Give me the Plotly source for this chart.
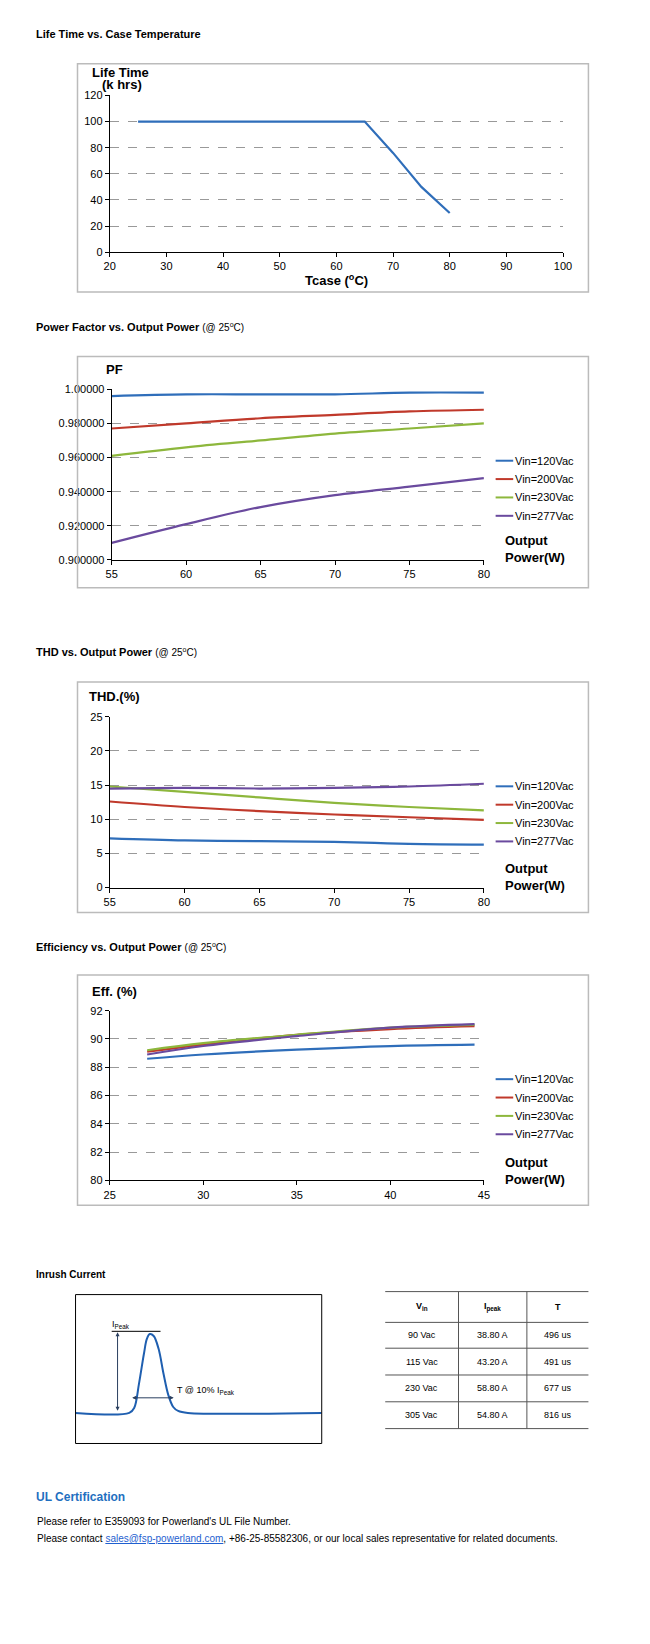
import plotly.graph_objects as go

W, H = 650, 1644

life_x = [25, 65, 70, 75, 80]
life_y = [100, 100, 76, 50, 30]

pf_x = [55, 60, 65, 70, 75, 80]
pf_120 = [0.996, 0.997, 0.997, 0.997, 0.998, 0.998]
pf_200 = [0.977, 0.980, 0.983, 0.985, 0.987, 0.988]
pf_230 = [0.961, 0.966, 0.970, 0.974, 0.977, 0.980]
pf_277 = [0.910, 0.921, 0.931, 0.938, 0.943, 0.948]

thd_x = [55, 60, 65, 70, 75, 80]
thd_120 = [7.2, 6.9, 6.8, 6.7, 6.4, 6.3]
thd_200 = [12.6, 11.8, 11.2, 10.7, 10.3, 9.9]
thd_230 = [14.8, 14.0, 13.2, 12.4, 11.8, 11.3]
thd_277 = [14.5, 14.6, 14.5, 14.6, 14.8, 15.2]

eff_x = [27, 30, 35, 40, 44.5]
eff_120 = [88.6, 88.9, 89.25, 89.5, 89.6]
eff_200 = [89.1, 89.6, 90.3, 90.7, 90.9]
eff_230 = [89.2, 89.7, 90.3, 90.8, 91.0]
eff_277 = [88.9, 89.5, 90.2, 90.8, 91.05]

names = ["Vin=120Vac", "Vin=200Vac", "Vin=230Vac", "Vin=277Vac"]
colors = ["#2f6eba", "#c0392b", "#8db73c", "#6a4a9e"]

inrush_t = [0, 55, 60, 65, 70, 73, 76, 80, 85, 90, 95, 100, 105, 115, 252]
inrush_i = [0, 0, 5, 30, 60, 75, 80, 78, 65, 40, 18, 6, 2, 0, 0]

tbl_head = ["V<sub>in</sub>", "I<sub>peak</sub>", "T"]
tbl_vin = ["90 Vac", "115 Vac", "230 Vac", "305 Vac"]
tbl_ipk = ["38.80 A", "43.20 A", "58.80 A", "54.80 A"]
tbl_t = ["496 us", "491 us", "677 us", "816 us"]

FONT = "Liberation Sans, Arial"

def fx(p):
    return p / W

def fy(p):
    return 1 - p / H

fig = go.Figure()
shapes = []
ann = []

def add_text(x, y, text, size=11, bold=False, color="black", xa="left", ya="middle"):
    if bold:
        text = "<b>" + text + "</b>"
    ann.append(dict(x=fx(x), y=fy(y), xref="paper", yref="paper", text=text, showarrow=False,
                    xanchor=xa, yanchor=ya, font=dict(size=size, color=color, family=FONT)))

def frame(x0, y0, x1, y1, color="#bbbbbb", width=1.5):
    shapes.append(dict(type="rect", xref="paper", yref="paper", x0=fx(x0), x1=fx(x1),
                       y0=fy(y1), y1=fy(y0), line=dict(color=color, width=width)))

def axes(n, px0, px1, py0, py1, xr, dx, yr, dy):
    xa = "xaxis" if n == 1 else "xaxis%d" % n
    ya = "yaxis" if n == 1 else "yaxis%d" % n
    fig.layout[xa] = dict(domain=[fx(px0), fx(px1)], range=xr, dtick=dx, anchor="y" if n == 1 else "y%d" % n,
                          showgrid=False, showline=True, linecolor="black", ticks="outside",
                          ticklen=4, tickcolor="black", zeroline=False, tickfont=dict(size=11))
    fig.layout[ya] = dict(domain=[fy(py1), fy(py0)], range=yr, dtick=dy, anchor="x" if n == 1 else "x%d" % n,
                          showgrid=True, gridcolor="#999999", griddash="dash", showline=True,
                          linecolor="black", ticks="outside", ticklen=4, tickcolor="black",
                          zeroline=False, tickfont=dict(size=11))

def series(n, x, ys):
    xa = "x" if n == 1 else "x%d" % n
    ya = "y" if n == 1 else "y%d" % n
    for nm, c, y in zip(names, colors, ys):
        fig.add_trace(go.Scatter(x=x, y=y, mode="lines", line=dict(color=c, width=2.2, shape="spline"),
                                 xaxis=xa, yaxis=ya, showlegend=False))

def legend(y0):
    for i, (nm, c) in enumerate(zip(names, colors)):
        y = y0 + i * 18.5
        shapes.append(dict(type="line", xref="paper", yref="paper", x0=fx(493), x1=fx(511),
                           y0=fy(y), y1=fy(y), line=dict(color=c, width=2)))
        add_text(511, y, nm, size=11)

# chart 1
add_text(20, 20, "Life Time vs. Case Temperature", bold=True)
frame(65, 50, 588, 280)
axes(1, 98, 562, 82, 240, [20, 100], 10, [0, 120], 20)
fig.add_trace(go.Scatter(x=life_x, y=life_y, mode="lines", line=dict(color="#2f6eba", width=2.2),
                         showlegend=False))
add_text(78, 59, "Life Time", size=13, bold=True)
add_text(88, 71, "(k hrs)", size=13, bold=True)
add_text(330, 268, "Tcase (<sup>o</sup>C)", size=13, bold=True, xa="center")

# chart 2
add_text(20, 315, "Power Factor vs. Output Power <span style='font-weight:normal;font-size:10px'>(@ 25<sup>o</sup>C)</span>", bold=True)
frame(65, 345, 588, 578)
axes(2, 100, 481, 378, 550, [55, 80], 5, [0.9, 1.0], 0.02)
fig.layout.yaxis2.tickformat = "g"
series(2, pf_x, [pf_120, pf_200, pf_230, pf_277])
add_text(92, 358, "PF", size=13, bold=True)
legend(450)
add_text(501, 530, "Output", size=13, bold=True)
add_text(501, 547, "Power(W)", size=13, bold=True)

# chart 3
add_text(20, 643, "THD vs. Output Power <span style='font-weight:normal;font-size:10px'>(@ 25<sup>o</sup>C)</span>", bold=True)
frame(65, 673, 588, 905)
axes(3, 98, 481, 708, 880, [55, 80], 5, [0, 25], 5)
series(3, thd_x, [thd_120, thd_200, thd_230, thd_277])
add_text(75, 688, "THD.(%)", size=13, bold=True)
legend(778)
add_text(501, 861, "Output", size=13, bold=True)
add_text(501, 878, "Power(W)", size=13, bold=True)

# chart 4
add_text(20, 940, "Efficiency vs. Output Power <span style='font-weight:normal;font-size:10px'>(@ 25<sup>o</sup>C)</span>", bold=True)
frame(65, 968, 588, 1200)
axes(4, 98, 481, 1004, 1175, [25, 45], 5, [80, 92], 2)
series(4, eff_x, [eff_120, eff_200, eff_230, eff_277])
add_text(78, 985, "Eff. (%)", size=13, bold=True)
legend(1073)
add_text(501, 1157, "Output", size=13, bold=True)
add_text(501, 1174, "Power(W)", size=13, bold=True)

# inrush
add_text(20, 1270, "Inrush Current", bold=True, size=10)
frame(63, 1290, 315, 1440, color="black", width=1)
fig.layout.xaxis5 = dict(domain=[fx(63), fx(315)], range=[0, 252], visible=False, anchor="y5")
fig.layout.yaxis5 = dict(domain=[fy(1440), fy(1290)], range=[-31, 120], visible=False, anchor="x5")
fig.add_trace(go.Scatter(x=inrush_t, y=inrush_i, mode="lines", line=dict(color="#1f5fb0", width=2, shape="spline"),
                         xaxis="x5", yaxis="y5", showlegend=False))
shapes.append(dict(type="line", xref="paper", yref="paper", x0=fx(100), x1=fx(150), y0=fy(1327), y1=fy(1327),
                   line=dict(color="black", width=1)))
ann.append(dict(x=fx(106), y=fy(1328), ax=0, ay=80, xref="paper", yref="paper", axref="pixel",
                ayref="pixel", text="", showarrow=True, arrowhead=2, arrowsize=0.8, arrowwidth=1, arrowside="end+start"))
ann.append(dict(x=fx(121), y=fy(1394), ax=43, ay=0, xref="paper", yref="paper", axref="pixel",
                ayref="pixel", text="", showarrow=True, arrowhead=2, arrowsize=0.8, arrowwidth=1, arrowside="end+start"))
add_text(98, 1320, "I<sub>Peak</sub>", size=9)
add_text(165, 1387, "T @ 10% I<sub>Peak</sub>", size=9)

# table
cols = [380, 455, 525, 588]
rows = [1287, 1318, 1344, 1371, 1398, 1425]
for r in rows:
    shapes.append(dict(type="line", xref="paper", yref="paper", x0=fx(cols[0]), x1=fx(cols[-1]),
                       y0=fy(r), y1=fy(r), line=dict(color="#555555", width=1)))
for c in cols[1:-1]:
    shapes.append(dict(type="line", xref="paper", yref="paper", x0=fx(c), x1=fx(c),
                       y0=fy(rows[-1]), y1=fy(rows[0]), line=dict(color="#555555", width=1)))
centers = [(cols[i] + cols[i + 1]) / 2 for i in range(3)]
for j, h in enumerate(tbl_head):
    add_text(centers[j], (rows[0] + rows[1]) / 2, h, size=9, bold=True, xa="center")
for i in range(4):
    ym = (rows[i + 1] + rows[i + 2]) / 2
    for j, v in enumerate([tbl_vin[i], tbl_ipk[i], tbl_t[i]]):
        add_text(centers[j], ym, v, size=9, xa="center")

# UL
add_text(20, 1494, "UL Certification", size=12, bold=True, color="#1f6fc0")
add_text(22, 1519, "Please refer to E359093 for Powerland's UL File Number.", size=10)
add_text(22, 1536, "Please contact <a href='mailto:sales@fsp-powerland.com' style='color:#1f5fd0'><u>sales@fsp-powerland.com</u></a>, +86-25-85582306, or our local sales representative for related documents.", size=10)

fig.update_layout(width=W, height=H, margin=dict(l=0, r=0, t=0, b=0), plot_bgcolor="white",
                  paper_bgcolor="white", font=dict(family=FONT, color="black"), shapes=shapes,
                  annotations=ann, showlegend=False)
fig.write_html("out.html")
